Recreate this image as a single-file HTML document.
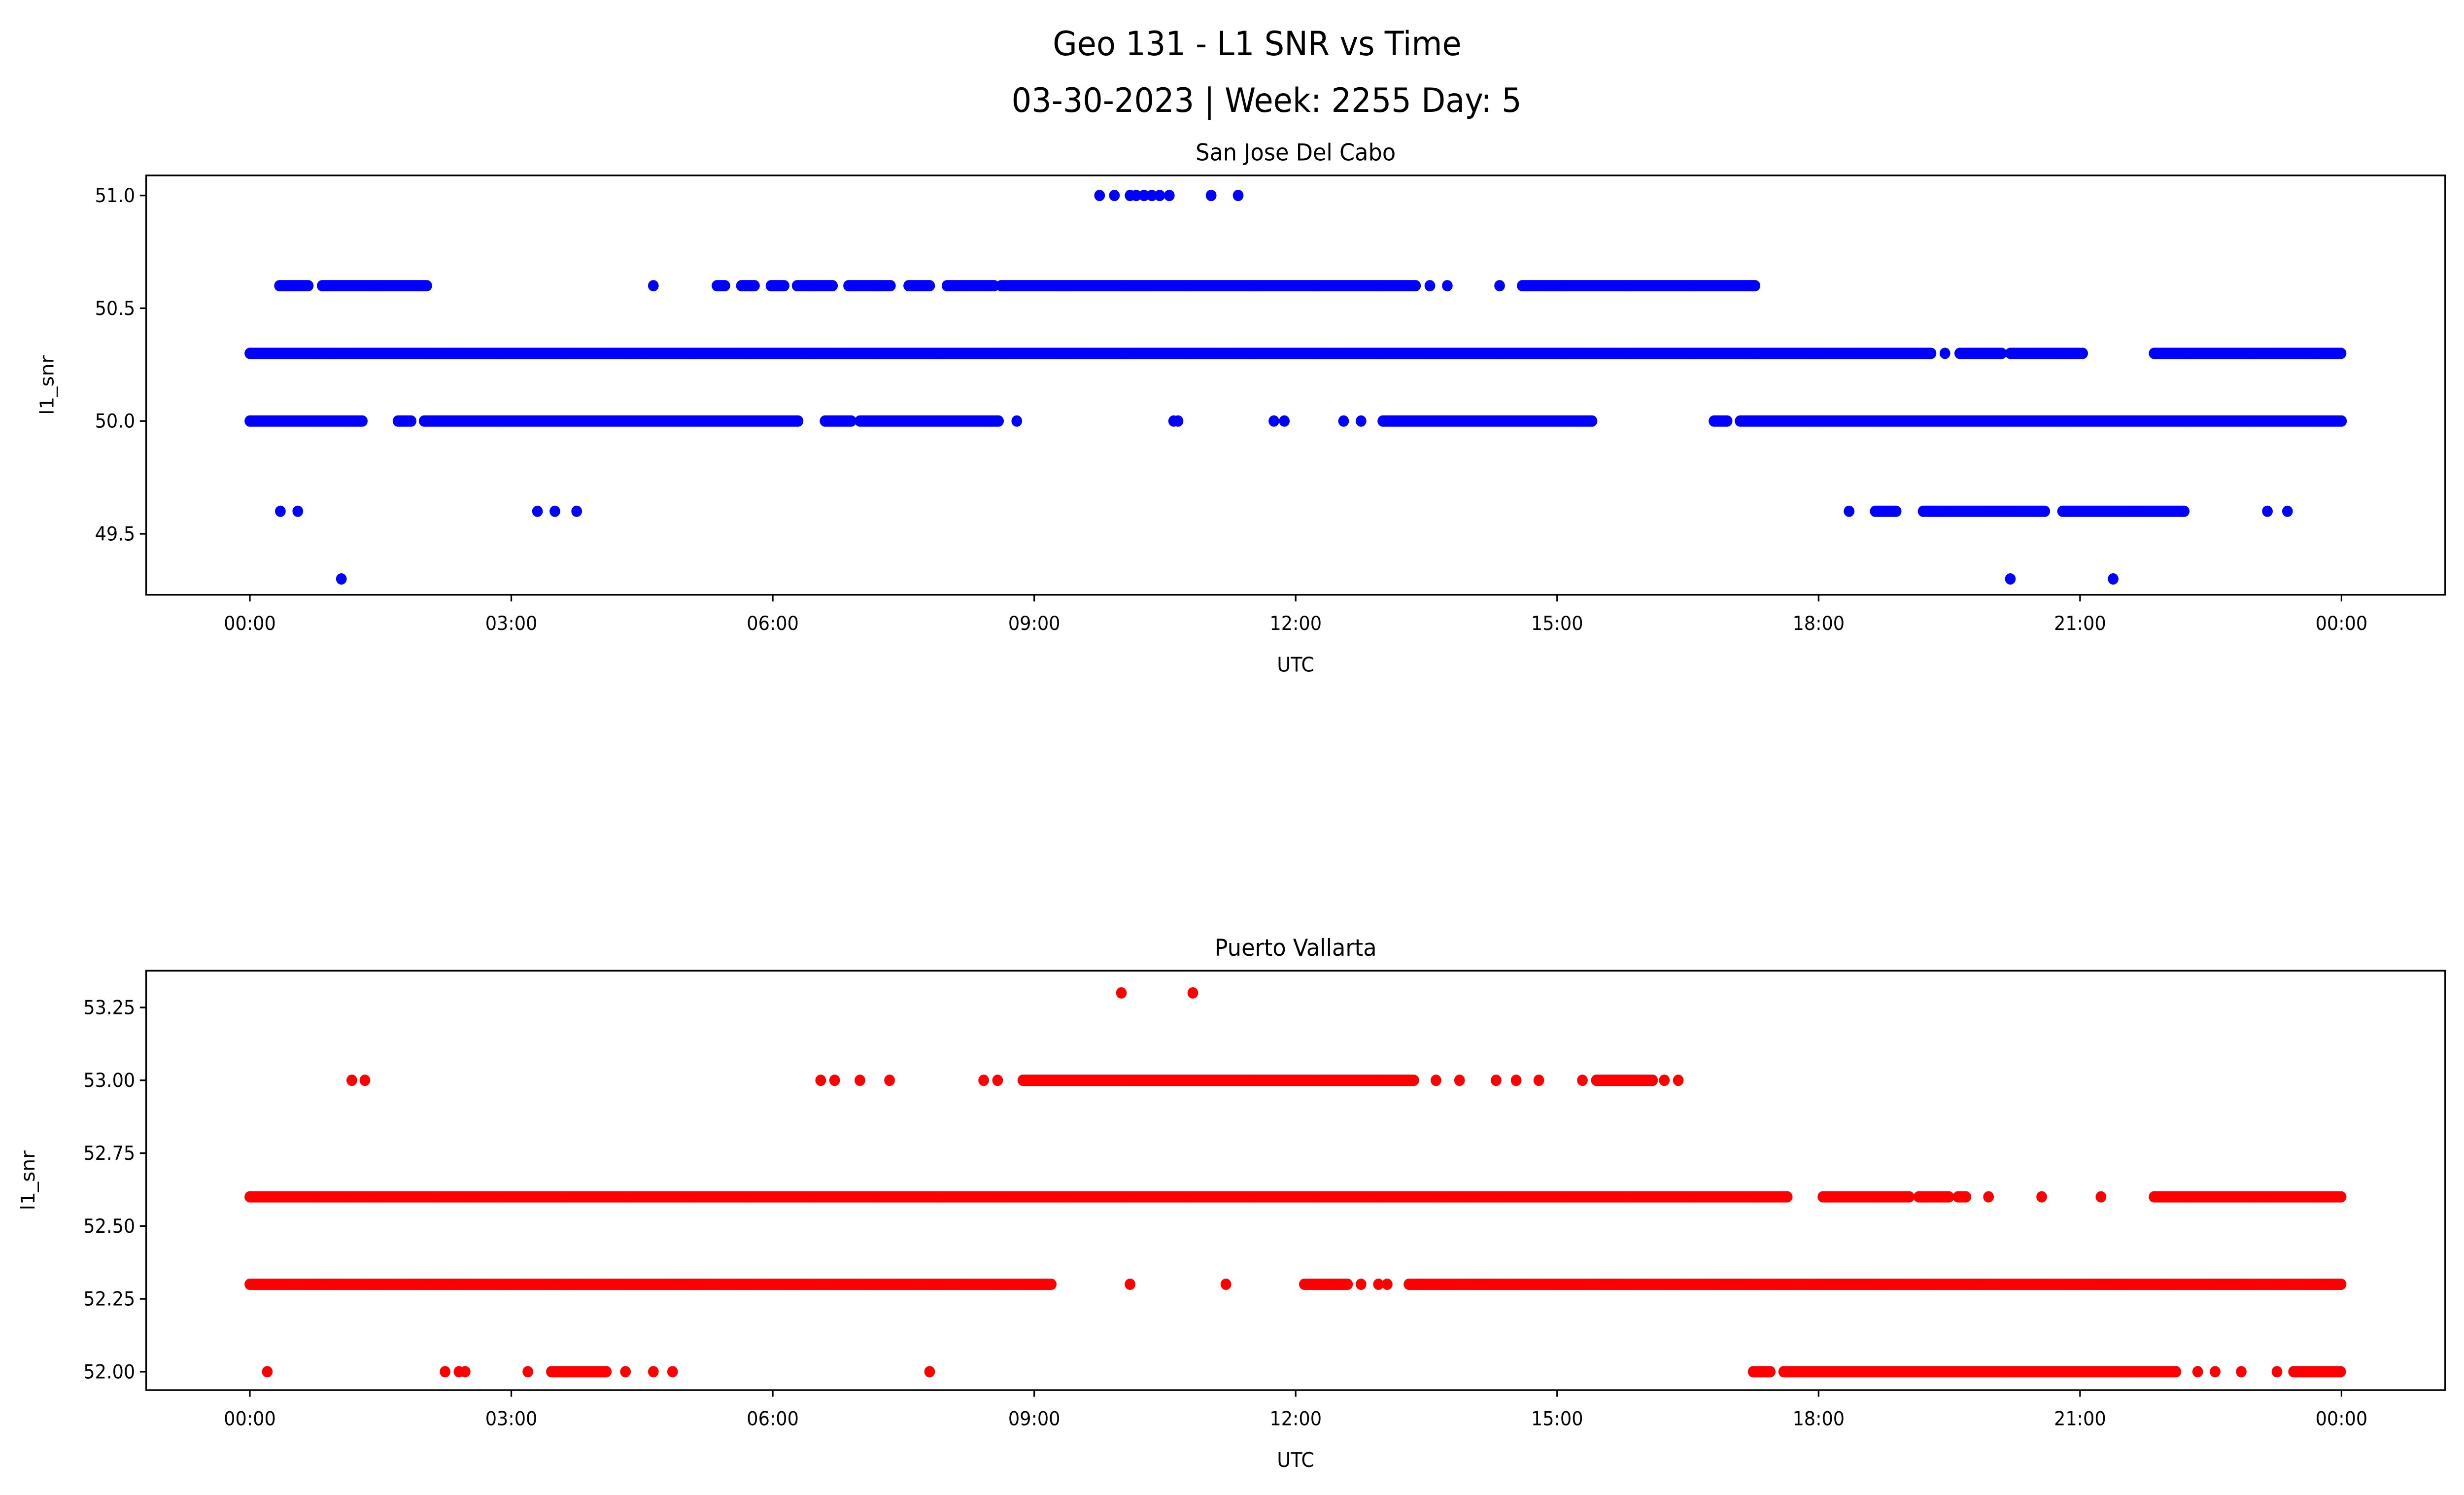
<!DOCTYPE html>
<html><head><meta charset="utf-8"><style>
html,body{margin:0;padding:0;background:#fff;width:100%;height:100%;overflow:hidden;}
svg{display:block;width:100vw;height:100vh;font-family:"DejaVu Sans","Liberation Sans",sans-serif;}
</style></head><body>
<svg id="chart" viewBox="0 0 1568 894.8" preserveAspectRatio="none" xmlns="http://www.w3.org/2000/svg">
<rect width="1568" height="894.8" fill="#fff"/>
<text x="800" y="33" font-size="20" text-anchor="middle">Geo 131 - L1 SNR vs Time</text>
<text x="806" y="67" font-size="20" text-anchor="middle">03-30-2023 | Week: 2255 Day: 5</text>
<g id="p1"></g>
<g id="p2"></g>
</svg>
<script>
// ---- data (hours UTC) ----
const xTickLabels = ["00:00","03:00","06:00","09:00","12:00","15:00","18:00","21:00","00:00"];
const xTickHours = [0,3,6,9,12,15,18,21,24];
const sjLevels = [51.0, 50.6, 50.3, 50.0, 49.6, 49.3];
const sjSegments = [
  [],
  [[0.34,0.67],[0.83,2.04],[5.36,5.46],[5.64,5.8],[5.98,6.13],[6.28,6.69],[6.87,7.36],[7.56,7.81],[8.0,8.55],[8.62,13.38],[14.6,17.28]],
  [[0,19.3],[19.62,20.1],[20.2,21.0],[21.85,24]],
  [[0,1.3],[1.7,1.85],[2.0,6.3],[6.6,6.9],[7.0,8.6],[13.0,15.4],[16.8,16.95],[17.1,24]],
  [[18.65,18.9],[19.2,20.6],[20.8,22.2]],
  []
];
const sjPoints = [
  [9.75,9.92,10.1,10.17,10.26,10.35,10.44,10.55,11.03,11.34],
  [4.63,13.54,13.74,14.34],
  [19.45,21.03],
  [8.8,10.6,10.65,11.75,11.87,12.55,12.75],
  [0.35,0.55,3.3,3.5,3.75,18.35,23.15,23.38],
  [1.05,20.2,21.38]
];
const sjTicks = [49.5, 50.0, 50.5, 51.0];
const sjTickLabels = ["49.5","50.0","50.5","51.0"];

const pvLevels = [53.3, 53.0, 52.6, 52.3, 52.0];
const pvSegments = [
  [],
  [[8.87,13.36],[15.45,16.1]],
  [[0,17.65],[18.05,19.05],[19.15,19.5],[19.6,19.7],[21.85,24]],
  [[0,9.2],[12.1,12.6],[13.3,24]],
  [[3.46,4.1],[17.25,17.45],[17.6,22.1],[23.45,24]]
];
const pvPoints = [
  [10.0,10.82],
  [1.17,1.32,6.55,6.71,7.0,7.34,8.42,8.58,13.61,13.88,14.3,14.53,14.79,15.29,16.23,16.39],
  [19.95,20.56,21.24],
  [10.1,11.2,12.75,12.95,13.05],
  [0.2,2.24,2.4,2.47,3.19,4.31,4.63,4.85,7.8,22.35,22.55,22.85,23.26]
];
const pvTicks = [52.0,52.25,52.5,52.75,53.0,53.25];
const pvTickLabels = ["52.00","52.25","52.50","52.75","53.00","53.25"];

const NS="http://www.w3.org/2000/svg";
function mk(tag, attrs, parent){const e=document.createElementNS(NS,tag);for(const k in attrs)e.setAttribute(k,attrs[k]);parent.appendChild(e);return e;}

function panel(g, cfg){
  const {top,bottom,left,right,yRef,yRefPx,yScale,color,title,levels,segs,pts,ticks,tickLabels,ylabX}=cfg;
  const x = h => 159 + h*55.46;
  const y = v => yRefPx - (v-yRef)*yScale;
  const t=mk('text',{x:(left+right)/2,y:top-9,'font-size':14,'text-anchor':'middle'},g);
  t.textContent=title;
  
  
  const dots=mk('g',{fill:color},g);
  
  
  levels.forEach((lv,i)=>{
    segs[i].forEach(s=>{
      for(let h=s[0];h<=s[1]+1e-9;h+=0.015){
        const c=mk('circle',{cx:x(h),cy:y(lv),r:3.4},dots);
        
        
      }
    });
    pts[i].forEach(h=>{
      const c=mk('circle',{cx:x(h),cy:y(lv),r:3.4},dots);
      
      
    });
  });
  const fr=mk('rect',{x:left,y:top,width:right-left,height:bottom-top,fill:'none',stroke:'#000','stroke-width':1},g);
  
  
  xTickHours.forEach((h,i)=>{
    mk('line',{x1:x(h),x2:x(h),y1:bottom,y2:bottom+4,stroke:'#000'},g);
    const l=mk('text',{x:x(h),y:bottom+21,'font-size':11.5,'text-anchor':'middle'},g);
    l.textContent=xTickLabels[i];
    
    
  });
  ticks.forEach((v,i)=>{
    mk('line',{x1:left-4,x2:left,y1:y(v),y2:y(v),stroke:'#000'},g);
    const l=mk('text',{x:left-7,y:y(v)+4,'font-size':11.5,'text-anchor':'end'},g);
    l.textContent=tickLabels[i];
    
    
  });
  const xl=mk('text',{x:(left+right)/2,y:bottom+46,'font-size':12,'text-anchor':'middle'},g);
  xl.textContent='UTC';
  
  
  const yc=(top+bottom)/2;
  const yl=mk('text',{x:ylabX,y:yc,'font-size':12,'text-anchor':'middle',transform:`rotate(-90 ${ylabX} ${yc})`},g);
  yl.textContent='l1_snr';
  
  
}
panel(document.getElementById('p1'),{top:105,bottom:356,left:93,right:1556,yRef:50,yRefPx:252,yScale:135,color:'#0000ff',title:'San Jose Del Cabo',levels:sjLevels,segs:sjSegments,pts:sjPoints,ticks:sjTicks,tickLabels:sjTickLabels,ylabX:34});
panel(document.getElementById('p2'),{top:581,bottom:832,left:93,right:1556,yRef:52,yRefPx:821,yScale:174.4,color:'#ff0000',title:'Puerto Vallarta',levels:pvLevels,segs:pvSegments,pts:pvPoints,ticks:pvTicks,tickLabels:pvTickLabels,ylabX:22});
</script>
</body></html>
